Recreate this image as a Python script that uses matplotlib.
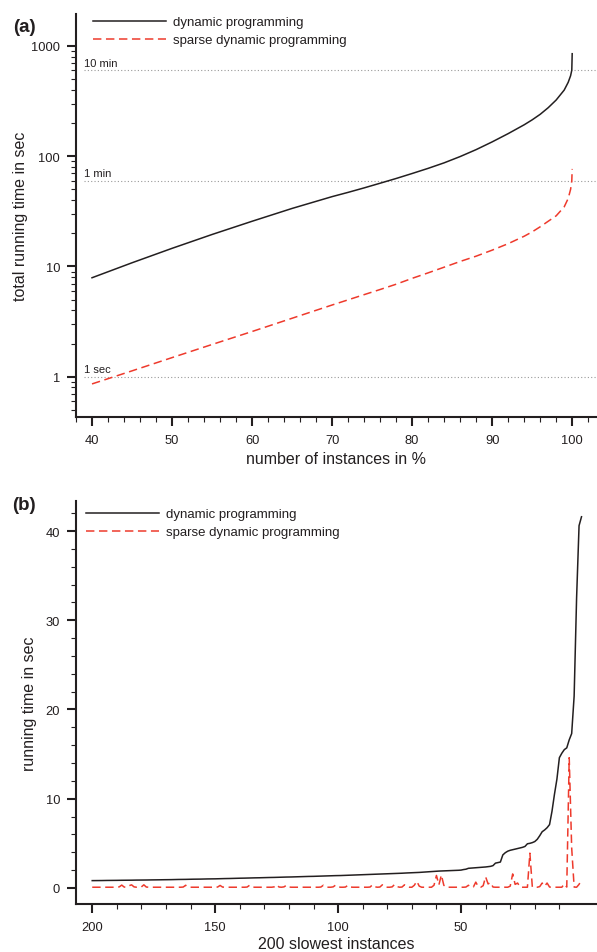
import matplotlib
matplotlib.use('Agg')
import matplotlib.pyplot as plt
from matplotlib.ticker import FixedLocator, FixedFormatter, NullFormatter, LogLocator

plt.rcParams['font.family'] = ['Liberation Sans', 'DejaVu Sans']

# ---------------- data: panel (a) ----------------
pct_instances = [40, 45, 50, 55, 60, 65, 70, 72, 74, 76, 78, 80, 82, 84, 86, 88,
                 90, 92, 94, 95, 96, 97, 98, 99, 99.5, 99.8, 99.95, 100]
total_dp = [7.9, 10.8, 14.6, 19.5, 25.7, 33.6, 43.0, 47.0, 51.6, 56.9, 62.8,
            69.7, 77.6, 87.1, 99.3, 114.8, 134.9, 160.3, 192.8, 213.8, 239.9,
            275.4, 323.6, 398.0, 468.0, 537.0, 603.0, 851.0]
total_sparse = [0.86, 1.13, 1.49, 1.96, 2.57, 3.39, 4.47, 4.98, 5.55, 6.18,
                6.9, 7.8, 8.75, 9.85, 11.1, 12.4, 14.06, 16.1, 18.8, 20.6, 22.9,
                25.7, 28.8, 34.7, 41.4, 50.0, 60.0, 76.7]
ref_times = [1, 60, 600]
ref_labels = ['1 sec', '1 min', '10 min']

# ---------------- data: panel (b) ----------------
rank = list(range(200, 0, -1))
slow_dp = [
    0.82, 0.82, 0.83, 0.83, 0.83, 0.84, 0.84, 0.84, 0.85, 0.85,
    0.85, 0.86, 0.86, 0.86, 0.87, 0.87, 0.87, 0.88, 0.88, 0.88,
    0.89, 0.89, 0.89, 0.90, 0.90, 0.90, 0.91, 0.91, 0.92, 0.92,
    0.92, 0.93, 0.93, 0.94, 0.94, 0.95, 0.95, 0.96, 0.96, 0.97,
    0.97, 0.98, 0.98, 0.99, 0.99, 1.00, 1.00, 1.01, 1.01, 1.02,
    1.02, 1.03, 1.03, 1.04, 1.05, 1.05, 1.06, 1.07, 1.07, 1.08,
    1.09, 1.09, 1.10, 1.11, 1.11, 1.12, 1.13, 1.13, 1.14, 1.15,
    1.15, 1.16, 1.17, 1.17, 1.18, 1.19, 1.19, 1.20, 1.21, 1.22,
    1.22, 1.23, 1.24, 1.25, 1.25, 1.26, 1.27, 1.28, 1.29, 1.29,
    1.30, 1.31, 1.32, 1.33, 1.34, 1.34, 1.35, 1.36, 1.37, 1.38,
    1.38, 1.39, 1.40, 1.41, 1.42, 1.43, 1.44, 1.45, 1.46, 1.47,
    1.48, 1.49, 1.50, 1.51, 1.52, 1.53, 1.54, 1.55, 1.56, 1.57,
    1.58, 1.59, 1.60, 1.62, 1.63, 1.64, 1.65, 1.67, 1.68, 1.69,
    1.70, 1.72, 1.73, 1.74, 1.76, 1.78, 1.80, 1.82, 1.85, 1.87,
    1.88, 1.89, 1.90, 1.91, 1.92, 1.93, 1.94, 1.95, 1.96, 1.98,
    2.00, 2.06, 2.10, 2.20, 2.22, 2.25, 2.27, 2.29, 2.31, 2.33,
    2.35, 2.38, 2.42, 2.50, 2.78, 2.84, 2.90, 3.70, 3.95, 4.12,
    4.22, 4.28, 4.35, 4.42, 4.48, 4.55, 4.65, 4.95, 5.00, 5.08,
    5.20, 5.45, 5.85, 6.30, 6.50, 6.75, 7.10, 8.60, 10.5, 12.2,
    14.6, 15.1, 15.5, 15.7, 16.6, 17.3, 21.5, 32.5, 40.6, 41.6,
]
slow_sparse = [
    0.08, 0.08, 0.07, 0.08, 0.08, 0.08, 0.07, 0.08, 0.08, 0.08,
    0.08, 0.12, 0.32, 0.10, 0.07, 0.25, 0.35, 0.12, 0.08, 0.08,
    0.12, 0.35, 0.10, 0.08, 0.08, 0.07, 0.08, 0.08, 0.08, 0.08,
    0.08, 0.08, 0.08, 0.07, 0.08, 0.08, 0.08, 0.10, 0.30, 0.10,
    0.08, 0.08, 0.08, 0.08, 0.08, 0.08, 0.08, 0.08, 0.08, 0.08,
    0.08, 0.10, 0.28, 0.10, 0.08, 0.08, 0.08, 0.08, 0.08, 0.08,
    0.08, 0.08, 0.08, 0.10, 0.30, 0.10, 0.08, 0.08, 0.08, 0.08,
    0.08, 0.08, 0.08, 0.08, 0.12, 0.35, 0.10, 0.08, 0.12, 0.30,
    0.10, 0.08, 0.08, 0.08, 0.08, 0.08, 0.08, 0.08, 0.08, 0.08,
    0.08, 0.08, 0.08, 0.10, 0.30, 0.10, 0.08, 0.08, 0.12, 0.32,
    0.12, 0.08, 0.08, 0.10, 0.30, 0.10, 0.08, 0.08, 0.08, 0.08,
    0.08, 0.08, 0.08, 0.10, 0.35, 0.12, 0.08, 0.10, 0.35, 0.10,
    0.08, 0.08, 0.12, 0.40, 0.15, 0.08, 0.10, 0.35, 0.12, 0.08,
    0.08, 0.30, 0.75, 0.20, 0.08, 0.08, 0.08, 0.08, 0.08, 0.30,
    1.40, 0.35, 1.45, 0.30, 0.08, 0.08, 0.08, 0.08, 0.08, 0.10,
    0.08, 0.08, 0.10, 0.30, 0.08, 0.10, 0.65, 0.15, 0.08, 0.25,
    1.25, 0.45, 0.60, 0.10, 0.08, 0.08, 0.08, 0.10, 0.08, 0.08,
    0.20, 1.57, 0.40, 0.55, 0.10, 0.08, 0.08, 0.08, 3.90, 0.10,
    0.08, 0.08, 0.15, 0.55, 0.20, 0.55, 0.10, 0.08, 0.08, 0.08,
    0.08, 0.08, 0.45, 0.10, 14.6, 4.50, 0.10, 0.08, 0.40, 0.92,
]

series_labels = ['dynamic programming', 'sparse dynamic programming']

# ---------------- styling ----------------
INK = '#231f20'
RED = '#ee3a2c'
GRAY = '#9a9a9a'
W, H = 597, 953
fig = plt.figure(figsize=(W / 100, H / 100), dpi=100)


def fx(px):
    return px / W


def fy(py):
    return 1 - py / H


def style_axes(ax):
    for s in ('top', 'right'):
        ax.spines[s].set_visible(False)
    for s in ('left', 'bottom'):
        ax.spines[s].set_linewidth(1.5)
        ax.spines[s].set_color(INK)
    ax.tick_params(which='major', length=6.5, width=1.5, colors=INK,
                   labelsize=9.3)
    ax.tick_params(which='minor', length=3.6, width=0.8, colors=INK)
    ax.tick_params(axis='x', pad=5.8)
    ax.tick_params(axis='y', pad=5)


# ---------------- panel (a) ----------------
axA = fig.add_axes([fx(76), fy(418), 1 - fx(76), fy(15) - fy(418)])
style_axes(axA)
axA.set_yscale('log')
axA.set_xlim(38, 103.1)
axA.set_ylim(0.431, 1950)

for t, lab in zip(ref_times, ref_labels):
    axA.hlines(t, 39, 103.1, colors=GRAY, linewidth=0.8,
               linestyles=(0, (1, 2)), zorder=1)
    axA.annotate(lab, xy=(39, t), xytext=(0, 3.3), textcoords='offset points',
                 ha='left', va='baseline', fontsize=8, color=INK)

lA1, = axA.plot(pct_instances, total_dp, color=INK, linewidth=1.1,
                label=series_labels[0], zorder=3)
lA2, = axA.plot(pct_instances, total_sparse, color=RED, linewidth=1.1,
                linestyle=(0, (5.5, 3)), label=series_labels[1], zorder=3)

axA.xaxis.set_major_locator(FixedLocator([40, 50, 60, 70, 80, 90, 100]))
axA.xaxis.set_minor_locator(FixedLocator([x for x in range(38, 103, 2) if x % 10]))
axA.yaxis.set_major_locator(FixedLocator([1, 10, 100, 1000]))
axA.yaxis.set_major_formatter(FixedFormatter(['1', '10', '100', '1000']))
axA.yaxis.set_minor_locator(LogLocator(base=10, subs=[2, 3, 4, 5, 6, 7, 8, 9]))
axA.yaxis.set_minor_formatter(NullFormatter())

legA = axA.legend(handles=[lA1, lA2], loc='upper left',
                  bbox_to_anchor=(fx(93), fy(17)), bbox_transform=fig.transFigure,
                  frameon=False, fontsize=9.5, handlelength=5.5,
                  handletextpad=0.6, labelspacing=0.43, borderpad=0,
                  borderaxespad=0)
for t in legA.get_texts():
    t.set_color(INK)

fig.text(fx(21), fy(216), 'total running time in sec', rotation=90,
         ha='center', va='center', fontsize=11.5, color=INK)
fig.text(fx(336.5), fy(460), 'number of instances in %', ha='center',
         va='center', fontsize=11.5, color=INK)
fig.text(fx(24), fy(27), '(a)', ha='center', va='center', fontsize=13.5,
         fontweight='bold', color=INK)

# ---------------- panel (b) ----------------
axB = fig.add_axes([fx(76), fy(905), 1 - fx(76), fy(501.7) - fy(905)])
style_axes(axB)
axB.set_xlim(206.6, -5.3)
axB.set_ylim(-1.8, 43.4)

lB1, = axB.plot(rank, slow_dp, color=INK, linewidth=1.1,
                label=series_labels[0], zorder=3)
lB2, = axB.plot(rank, slow_sparse, color=RED, linewidth=1.1,
                linestyle=(0, (5.5, 3)), label=series_labels[1], zorder=3)

axB.xaxis.set_major_locator(FixedLocator([200, 150, 100, 50]))
axB.xaxis.set_minor_locator(FixedLocator([x for x in range(10, 200, 10) if x % 50]))
axB.yaxis.set_major_locator(FixedLocator([0, 10, 20, 30, 40]))
axB.yaxis.set_minor_locator(FixedLocator([x for x in range(0, 43, 2) if x % 10]))

legB = axB.legend(handles=[lB1, lB2], loc='upper left',
                  bbox_to_anchor=(fx(86), fy(509)), bbox_transform=fig.transFigure,
                  frameon=False, fontsize=9.5, handlelength=5.5,
                  handletextpad=0.6, labelspacing=0.43, borderpad=0,
                  borderaxespad=0)
for t in legB.get_texts():
    t.set_color(INK)

fig.text(fx(29.5), fy(704), 'running time in sec', rotation=90,
         ha='center', va='center', fontsize=11.5, color=INK)
fig.text(fx(336), fy(945), '200 slowest instances', ha='center',
         va='center', fontsize=11.5, color=INK)
fig.text(fx(24), fy(505), '(b)', ha='center', va='center', fontsize=13.5,
         fontweight='bold', color=INK)

fig.savefig('out.png', dpi=100)
